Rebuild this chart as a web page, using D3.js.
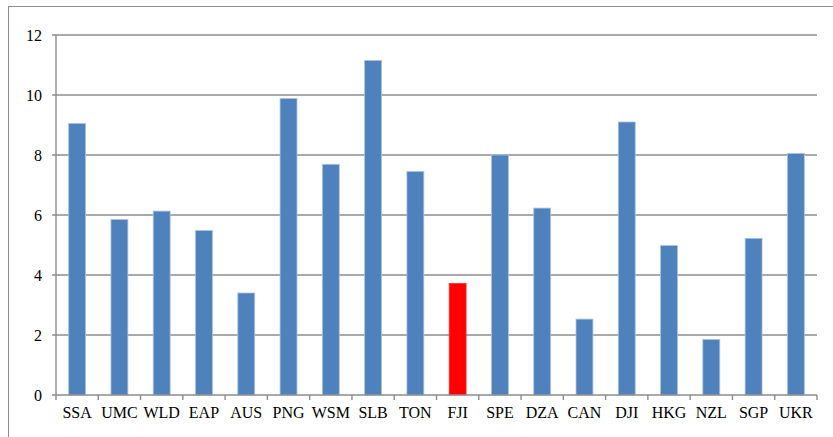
<!DOCTYPE html>
<html><head><meta charset="utf-8">
<script src="https://cdn.jsdelivr.net/npm/d3@7"></script>
<style>html,body{margin:0;padding:0;background:#fff;overflow:hidden}
svg text{font-family:"Liberation Serif","Times New Roman",Tinos,"DejaVu Serif",serif;}</style>
</head><body>
<svg id="chart" width="833" height="437"></svg>
<script>
const categories = ["SSA","UMC","WLD","EAP","AUS","PNG","WSM","SLB","TON","FJI","SPE","DZA","CAN","DJI","HKG","NZL","SGP","UKR"];
const values = [9.05,5.85,6.13,5.48,3.4,9.88,7.69,11.15,7.45,3.72,8.0,6.23,2.53,9.1,4.98,1.85,5.22,8.05];
const highlight = ["FJI"];
const yTicks = [0,2,4,6,8,10,12];

(function(){
const svg = d3.select("#chart");
svg.append("rect").attr("x",8.5).attr("y",6.5).attr("width",840).attr("height",450)
  .attr("fill","none").attr("stroke","#8c8c8c").attr("stroke-width",1);

const pLeft = 56, pRight = 817, pTop = 35, pBottom = 395;
const x = d3.scaleBand().domain(categories).range([pLeft,pRight]).padding(0);
const y = d3.scaleLinear().domain([0,12]).range([pBottom,pTop]);

// gridlines
svg.append("g").selectAll("line").data(yTicks.filter(d=>d>0)).join("line")
  .attr("x1",pLeft-4).attr("x2",pRight).attr("y1",d=>y(d)).attr("y2",d=>y(d))
  .attr("stroke","#8c8c8c").attr("stroke-width",1.4);

// bars
const bw = x.bandwidth()*0.4;
svg.append("g").selectAll("rect").data(categories).join("rect")
  .attr("x",(d)=>x(d)+x.bandwidth()/2-bw/2)
  .attr("y",(d,i)=>y(values[i]))
  .attr("width",bw)
  .attr("height",(d,i)=>pBottom-y(values[i]))
  .attr("fill",d=>highlight.includes(d)?"#ff0000":"#4f81bd")
  .attr("stroke",d=>highlight.includes(d)?"#ff3030":"#a9c1e0")
  .attr("stroke-width",0.8);

// y axis line
svg.append("line").attr("x1",pLeft).attr("x2",pLeft).attr("y1",pTop).attr("y2",pBottom)
  .attr("stroke","#8c8c8c").attr("stroke-width",1.4);
// x axis line
svg.append("line").attr("x1",pLeft-4).attr("x2",pRight).attr("y1",pBottom).attr("y2",pBottom)
  .attr("stroke","#8c8c8c").attr("stroke-width",1.4);

// x ticks at band boundaries
const bounds = categories.map(c=>x(c)).concat([pRight]);
svg.append("g").selectAll("line").data(bounds).join("line")
  .attr("x1",d=>d).attr("x2",d=>d).attr("y1",pBottom).attr("y2",pBottom+5)
  .attr("stroke","#8c8c8c").attr("stroke-width",1.4);

// y labels
svg.append("g").selectAll("text").data(yTicks).join("text")
  .attr("x",42).attr("y",d=>y(d)).attr("dy","0.35em")
  .attr("text-anchor","end").attr("font-size",16)
  .attr("fill","#000").text(d=>d);

// x labels
svg.append("g").selectAll("text").data(categories).join("text")
  .attr("x",d=>x(d)+x.bandwidth()/2).attr("y",418)
  .attr("text-anchor","middle").attr("font-size",16)
  .attr("fill","#000").text(d=>d);
})();
</script>
</body></html>
